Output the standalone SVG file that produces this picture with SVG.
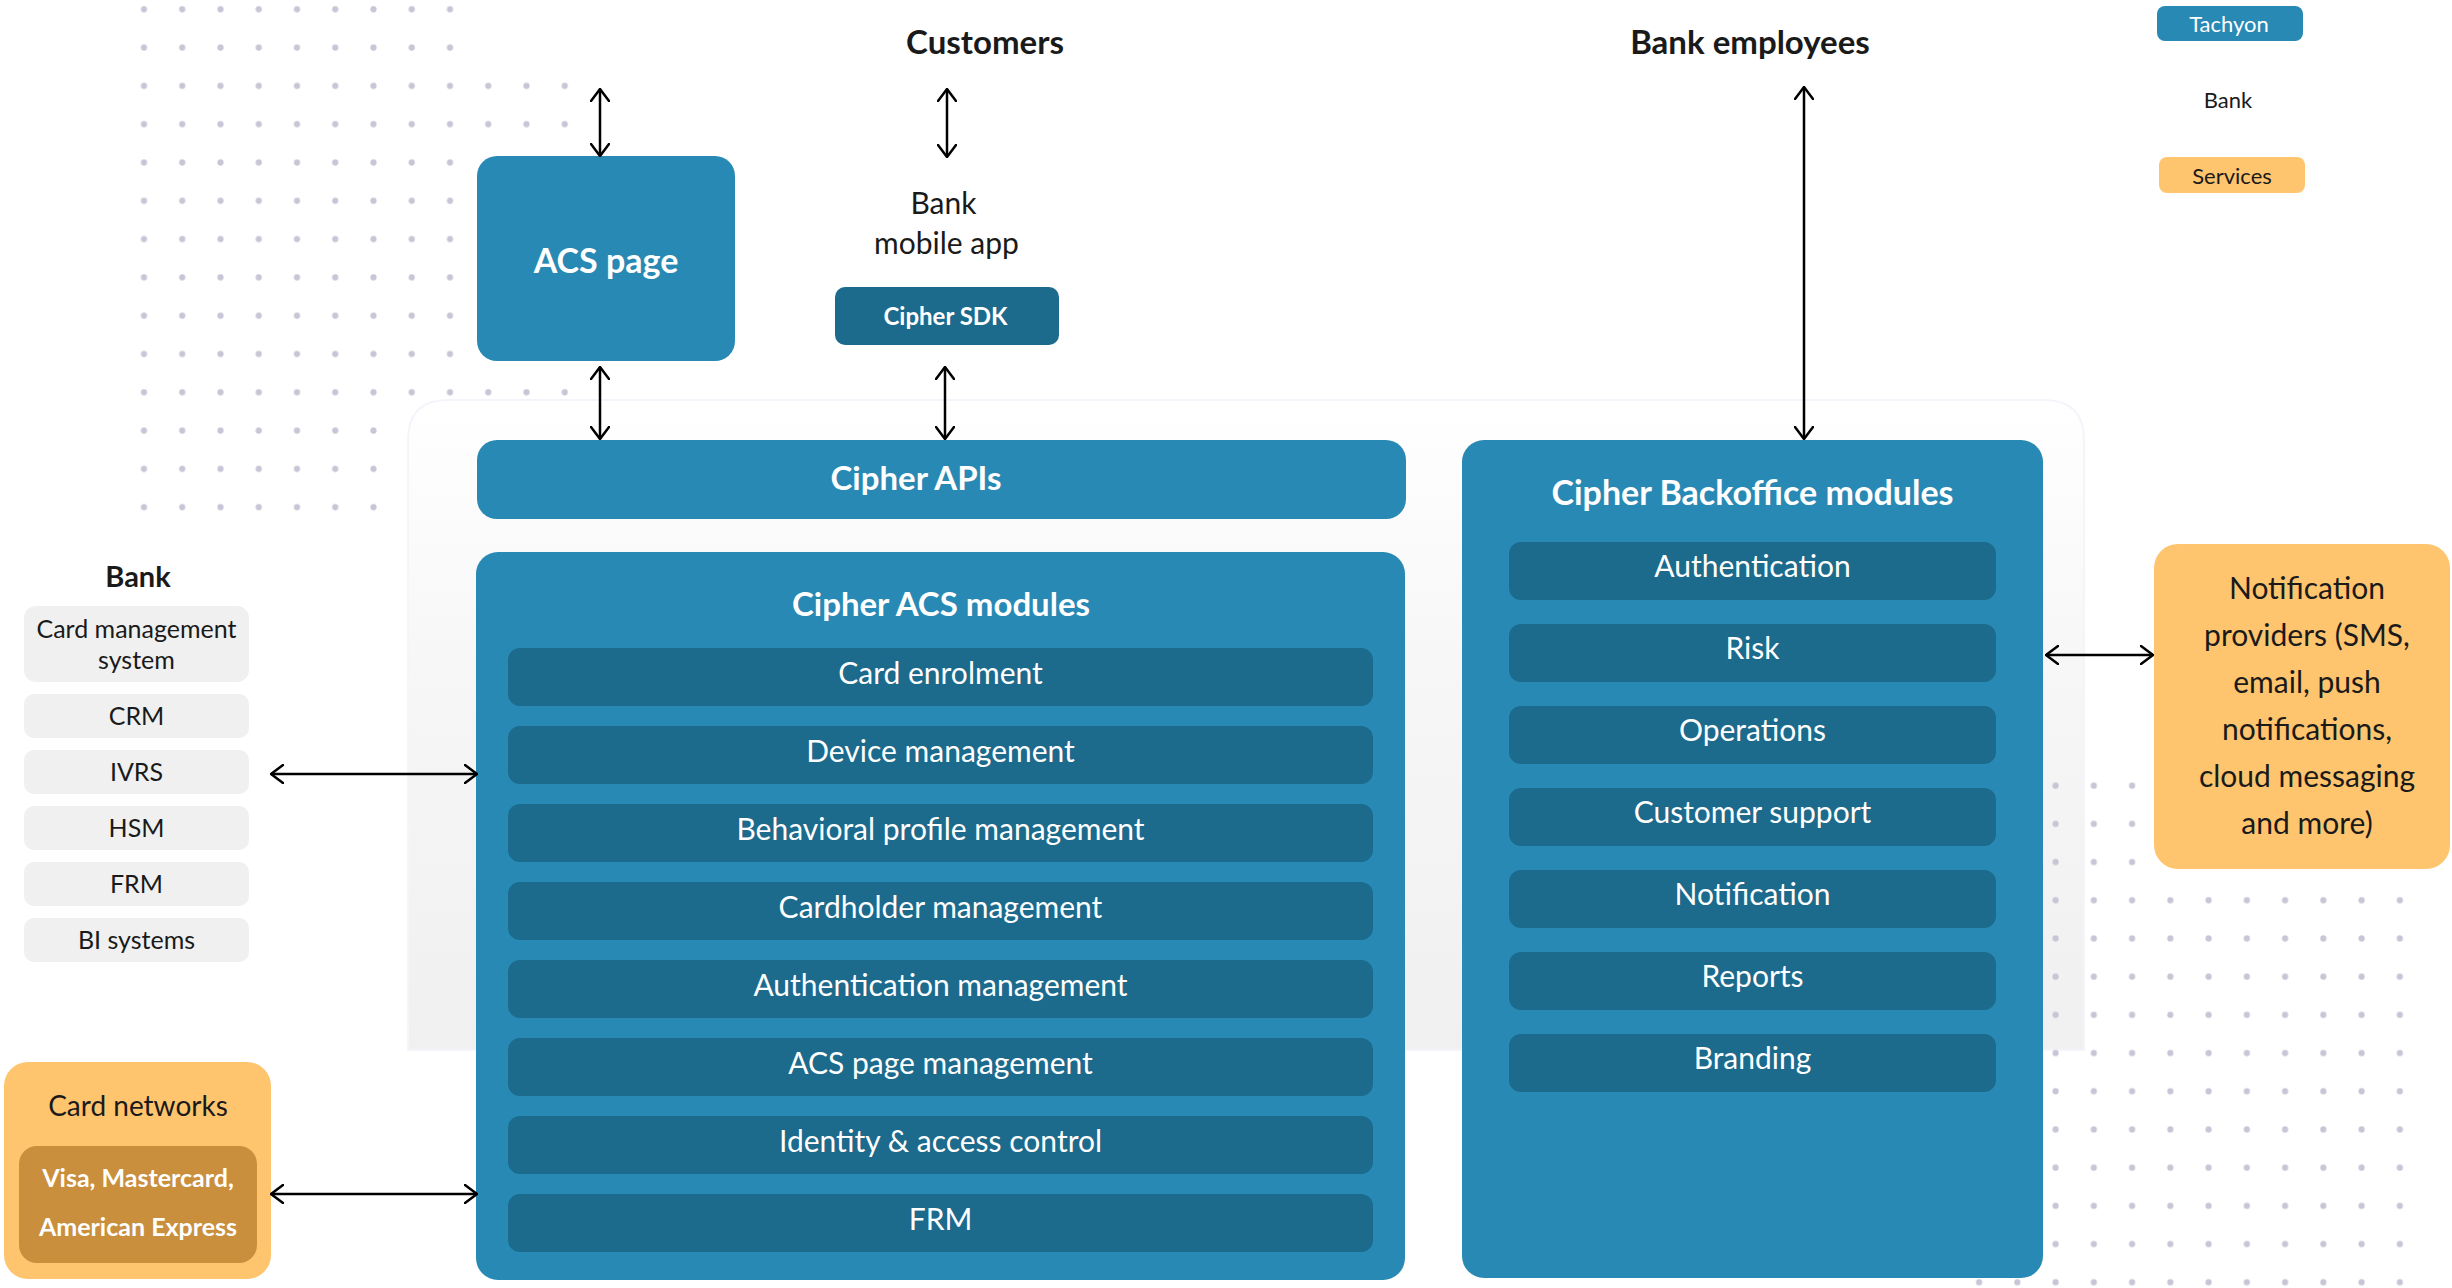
<svg xmlns="http://www.w3.org/2000/svg" width="2452" height="1288" viewBox="0 0 2452 1288">
<defs>
<style>
text{font-family:Lato,"Open Sans","Liberation Sans",sans-serif}
.b{font-weight:700}
.w{fill:#ffffff}
.k{fill:#1a1a1a}
.c{text-anchor:middle}
.blue{fill:#2889b4}
.dark{fill:#1c6a8c}
.org{fill:#fec46e}
.org2{fill:#c98f3c}
.gray{fill:#f0f0f0}
.m{font-size:30px}
.h{font-size:33px}
.s{font-size:24px}
.bs{font-size:25px}
.conn{stroke:#000;stroke-width:2.5;fill:none;marker-start:url(#ah);marker-end:url(#ah)}
</style>
<pattern id="dotsL" x="10.125" y="-9.85" width="38.25" height="38.3" patternUnits="userSpaceOnUse">
<circle cx="19.125" cy="19.15" r="3.1" fill="#c8c6d6"/>
</pattern>
<pattern id="dotsR" x="2036.475" y="766.55" width="38.25" height="38.2" patternUnits="userSpaceOnUse">
<circle cx="19.125" cy="19.1" r="3.1" fill="#c8c6d6"/>
</pattern>
<linearGradient id="panelGrad" x1="0" y1="0" x2="0" y2="1">
<stop offset="0" stop-color="#ffffff"/>
<stop offset="0.45" stop-color="#f6f6f6"/>
<stop offset="1" stop-color="#f0f0f0"/>
</linearGradient>
<marker id="ah" viewBox="0 0 14 20" refX="13" refY="10" markerWidth="14" markerHeight="20" markerUnits="userSpaceOnUse" orient="auto-start-reverse">
<path d="M1,1 L13,10 L1,19" fill="none" stroke="#000" stroke-width="2.5" stroke-linecap="round" stroke-linejoin="round"/>
</marker>
</defs>

<rect x="0" y="0" width="2452" height="1288" fill="#ffffff"/>

<g id="dots-left">
<rect x="124.875" y="-9.85" width="344.25" height="536.2" fill="url(#dotsL)"/>
<rect x="469.125" y="66.75" width="114.75" height="344.7" fill="url(#dotsL)"/>
</g>

<g id="platform-panel">
<path d="M408,1050 L408,440 Q408,400 448,400 L2044,400 Q2084,400 2084,440 L2084,1050 Z" fill="url(#panelGrad)" stroke="#f3f5fb" stroke-width="2"/>
</g>

<g id="dots-right">
<rect x="1960.0" y="766.55" width="420" height="534.8" fill="url(#dotsR)"/>
<rect x="2380" y="766.55" width="38.25" height="534.8" fill="url(#dotsR)"/>
</g>

<g id="customers">
<text class="k b c h" x="985" y="54">Customers</text>
</g>

<g id="bank-employees">
<text class="k b c h" x="1750" y="54">Bank employees</text>
</g>

<g id="legend">
<rect class="blue" x="2157" y="6" width="146" height="35" rx="8"/>
<text class="w c" x="2229" y="32" font-size="22">Tachyon</text>
<text class="k c" x="2228" y="108" font-size="22">Bank</text>
<rect class="org" x="2159" y="157" width="146" height="36" rx="8"/>
<text class="k c" x="2232" y="184" font-size="22">Services</text>
</g>

<g id="acs-page">
<rect class="blue" x="477" y="156" width="258" height="205" rx="20"/>
<text class="w b c" x="606" y="273" font-size="34">ACS page</text>
</g>

<g id="bank-mobile-app">
<text class="k c m" x="943.5" y="214">Bank</text>
<text class="k c m" x="946.5" y="254">mobile app</text>
</g>

<g id="cipher-sdk">
<rect class="dark" x="835" y="287" width="224" height="58" rx="10"/>
<text class="w b c s" x="945.5" y="325">Cipher SDK</text>
</g>

<g id="cipher-apis">
<rect class="blue" x="477" y="440" width="929" height="79" rx="20"/>
<text class="w b c h" x="916" y="490">Cipher APIs</text>
</g>

<g id="cipher-acs-modules">
<rect class="blue" x="476" y="552" width="929" height="728" rx="22"/>
<text class="w b c h" x="941" y="616">Cipher ACS modules</text>
<rect class="dark" x="508" y="648" width="865" height="58" rx="12"/>
<text class="w c m" x="940.5" y="684">Card enrolment</text>
<rect class="dark" x="508" y="726" width="865" height="58" rx="12"/>
<text class="w c m" x="940.5" y="762">Device management</text>
<rect class="dark" x="508" y="804" width="865" height="58" rx="12"/>
<text class="w c m" x="940.5" y="840">Behavioral profile management</text>
<rect class="dark" x="508" y="882" width="865" height="58" rx="12"/>
<text class="w c m" x="940.5" y="918">Cardholder management</text>
<rect class="dark" x="508" y="960" width="865" height="58" rx="12"/>
<text class="w c m" x="940.5" y="996">Authentication management</text>
<rect class="dark" x="508" y="1038" width="865" height="58" rx="12"/>
<text class="w c m" x="940.5" y="1074">ACS page management</text>
<rect class="dark" x="508" y="1116" width="865" height="58" rx="12"/>
<text class="w c m" x="940.5" y="1152">Identity &amp; access control</text>
<rect class="dark" x="508" y="1194" width="865" height="58" rx="12"/>
<text class="w c m" x="940.5" y="1230">FRM</text>
</g>

<g id="cipher-backoffice-modules">
<rect class="blue" x="1462" y="440" width="581" height="838" rx="22"/>
<text class="w b c" x="1752.5" y="505" font-size="34">Cipher Backoffice modules</text>
<rect class="dark" x="1509" y="542" width="487" height="58" rx="12"/>
<text class="w c m" x="1752.5" y="577">Authentication</text>
<rect class="dark" x="1509" y="624" width="487" height="58" rx="12"/>
<text class="w c m" x="1752.5" y="659">Risk</text>
<rect class="dark" x="1509" y="706" width="487" height="58" rx="12"/>
<text class="w c m" x="1752.5" y="741">Operations</text>
<rect class="dark" x="1509" y="788" width="487" height="58" rx="12"/>
<text class="w c m" x="1752.5" y="823">Customer support</text>
<rect class="dark" x="1509" y="870" width="487" height="58" rx="12"/>
<text class="w c m" x="1752.5" y="905">Notification</text>
<rect class="dark" x="1509" y="952" width="487" height="58" rx="12"/>
<text class="w c m" x="1752.5" y="987">Reports</text>
<rect class="dark" x="1509" y="1034" width="487" height="58" rx="12"/>
<text class="w c m" x="1752.5" y="1069">Branding</text>
</g>

<g id="notification-providers">
<rect class="org" x="2154" y="544" width="296" height="325" rx="24"/>
<text class="k c m" x="2307" y="599">Notification</text>
<text class="k c m" x="2307" y="646">providers (SMS,</text>
<text class="k c m" x="2307" y="693">email, push</text>
<text class="k c m" x="2307" y="740">notifications,</text>
<text class="k c m" x="2307" y="787">cloud messaging</text>
<text class="k c m" x="2307" y="834">and more)</text>
</g>

<g id="bank">
<text class="k b c" x="138" y="587" font-size="29">Bank</text>
<rect class="gray" x="24" y="606" width="225" height="76" rx="12"/>
<text class="k c bs" x="136.5" y="638">Card management</text>
<text class="k c bs" x="136.5" y="669">system</text>
<rect class="gray" x="24" y="694" width="225" height="44" rx="10"/>
<text class="k c bs" x="136.5" y="725">CRM</text>
<rect class="gray" x="24" y="750" width="225" height="44" rx="10"/>
<text class="k c bs" x="136.5" y="781">IVRS</text>
<rect class="gray" x="24" y="806" width="225" height="44" rx="10"/>
<text class="k c bs" x="136.5" y="837">HSM</text>
<rect class="gray" x="24" y="862" width="225" height="44" rx="10"/>
<text class="k c bs" x="136.5" y="893">FRM</text>
<rect class="gray" x="24" y="918" width="225" height="44" rx="10"/>
<text class="k c bs" x="136.5" y="949">BI systems</text>
</g>

<g id="card-networks">
<rect class="org" x="4" y="1062" width="267" height="217" rx="24"/>
<text class="k c" x="138" y="1116" font-size="28">Card networks</text>
<rect class="org2" x="19" y="1146" width="238" height="117" rx="18"/>
<text class="w b c" x="138" y="1187" font-size="25">Visa, Mastercard,</text>
<text class="w b c" x="138" y="1236" font-size="25">American Express</text>
</g>

<g id="connectors">
<line class="conn" x1="600" y1="89" x2="600" y2="156"/>
<line class="conn" x1="947" y1="89" x2="947" y2="157"/>
<line class="conn" x1="600" y1="367" x2="600" y2="439"/>
<line class="conn" x1="945" y1="367" x2="945" y2="439"/>
<line class="conn" x1="1804" y1="87" x2="1804" y2="439"/>
<line class="conn" x1="271" y1="774" x2="477" y2="774" stroke-width="3"/>
<line class="conn" x1="271" y1="1194" x2="477" y2="1194" stroke-width="3"/>
<line class="conn" x1="2046" y1="655" x2="2153" y2="655" stroke-width="3"/>
</g>
</svg>
